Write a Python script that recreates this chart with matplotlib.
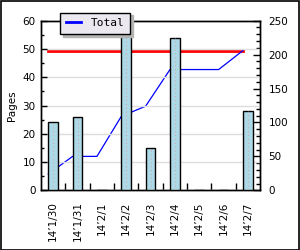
import numpy as np
import matplotlib
matplotlib.use("Agg")
import matplotlib.pyplot as plt
from matplotlib.patches import Rectangle


dates = ["14’1/30", "14’1/31", "14’2/1", "14’2/2", "14’2/3",
         "14’2/4", "14’2/5", "14’2/6", "14’2/7"]
pages = [24, 26, 0, 59, 15, 54, 0, 0, 28]
total = [24, 50, 50, 109, 124, 178, 178, 178, 206]
target_total = 206

BAR_W = 0.41
LINE_SHIFT = -0.2

plt.rcParams["font.family"] = "DejaVu Sans"

fig = plt.figure(figsize=(3.0, 2.5), dpi=100)
ax = fig.add_axes([41 / 300, 1 - 190.3 / 250, 219 / 300, 169.6 / 250])
ax2 = ax.twinx()

# bars on top of the lines: left axes drawn after the twin
ax.set_zorder(ax2.get_zorder() + 1)
ax.patch.set_visible(False)
ax2.patch.set_facecolor("white")

x = np.arange(len(dates))
xl = x + LINE_SHIFT

ax2.plot(xl, [target_total] * len(xl), color="#ff0000", lw=2.0, zorder=2)
ax2.plot(xl, total, color="#0000ff", lw=0.9, label="Total", zorder=3)

ax.bar(x, pages, width=BAR_W, color="#add8e6", edgecolor="black",
       linewidth=1.0, zorder=3)
for xi, v in zip(x, pages):
    if v > 0:
        ax.plot([xi, xi], [0, v], color="#d8a0a8", lw=0.7, ls=(0, (1, 3)),
                zorder=4)

ax.set_xlim(-0.5, len(dates) - 0.5)
ax.set_ylim(0, 60)
ax2.set_ylim(0, 250)

ax.set_yticks(np.arange(0, 61, 10))
ax.set_yticks(np.arange(0, 61, 5), minor=True)
ax2.set_yticks(np.arange(0, 251, 50))
ax2.set_yticks(np.arange(0, 251, 10), minor=True)
ax.set_xticks(x)
ax.set_xticklabels(dates, rotation=90, fontsize=7.5)
ax.set_xticks(x[:-1] + 0.5, minor=True)

ax.yaxis.grid(True, color="#dddddd", lw=1.0, zorder=0)
ax.set_axisbelow(True)

ax.tick_params(axis="y", which="major", direction="in", length=4,
               width=1, labelsize=7.5, pad=4)
ax.tick_params(axis="y", which="minor", direction="in", length=2.5, width=1)
ax.tick_params(axis="x", which="major", length=0, pad=8)
ax.tick_params(axis="x", which="minor", direction="in", length=5, width=1)
ax2.tick_params(axis="y", which="major", direction="in", length=5,
                width=1, labelsize=7.5, pad=6)
ax2.tick_params(axis="y", which="minor", direction="in", length=3, width=1)

ax.set_ylabel("Pages", fontsize=7.5, labelpad=4)

for a in (ax, ax2):
    for s in a.spines.values():
        s.set_linewidth(1.0)
        s.set_color("black")

handles, labels = ax2.get_legend_handles_labels()
leg = ax.legend(handles, labels, loc="upper left",
                bbox_to_anchor=(60 / 300, 1 - 12.7 / 250),
                bbox_transform=fig.transFigure, borderaxespad=0,
                fancybox=False, shadow={"color": "#b4b4b4", "alpha": 1},
                edgecolor="black", facecolor="#ebe8ef", framealpha=1,
                prop={"family": "DejaVu Sans Mono", "size": 8},
                handlelength=1.4, borderpad=0.5, handletextpad=0.9)
leg.get_frame().set_linewidth(1.0)
leg.get_lines()[0].set_linewidth(2.0)

fig.patches.append(Rectangle((0.002, 0.002), 0.993, 0.994,
                             transform=fig.transFigure, fill=False,
                             edgecolor="black", lw=1.2))

fig.savefig("out.png", dpi=100)
